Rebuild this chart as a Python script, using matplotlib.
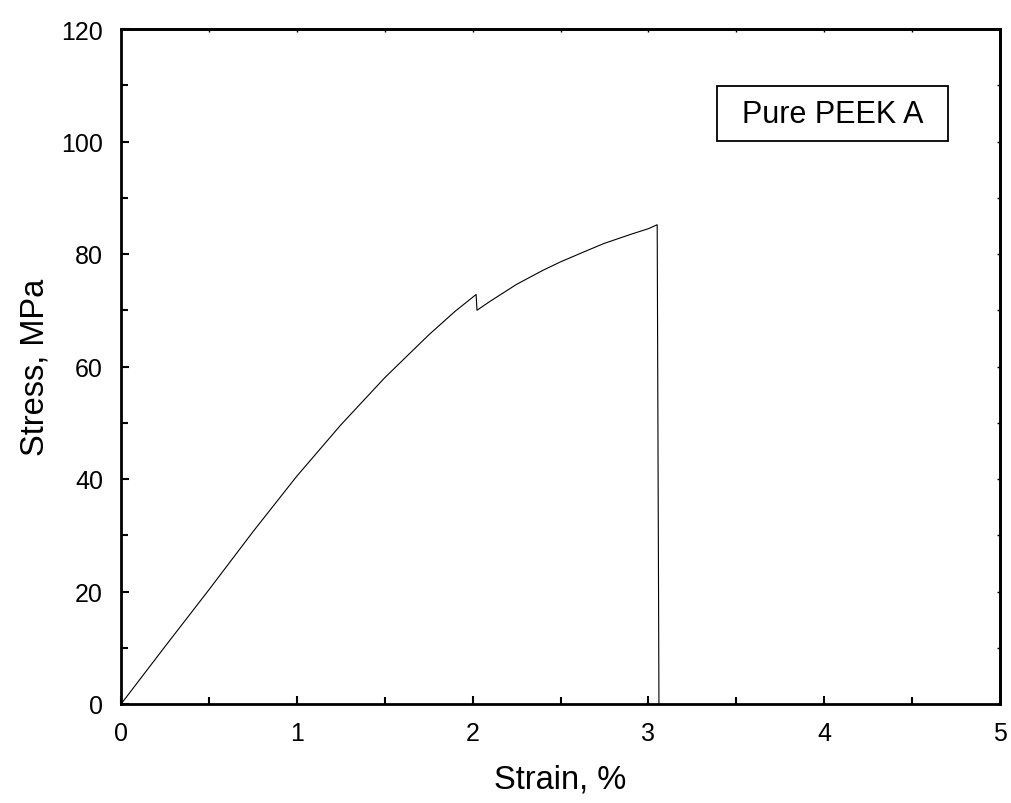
import matplotlib.pyplot as plt
from matplotlib.patches import Rectangle
from matplotlib.ticker import MultipleLocator

plt.rcParams['font.family'] = ['Liberation Sans', 'DejaVu Sans']

# stress-strain curve
strain = [0.0, 0.02, 0.25, 0.5, 0.75, 1.0, 1.25, 1.5, 1.75, 1.9, 2.0, 2.02,
          2.025, 2.1, 2.25, 2.4, 2.5, 2.65, 2.75, 2.9, 3.0, 3.05, 3.06]
stress = [0.0, 0.8, 10.2, 20.3, 30.6, 40.5, 49.6, 58.0, 65.6, 69.8, 72.3, 72.8,
          70.0, 71.6, 74.6, 77.1, 78.6, 80.6, 81.9, 83.5, 84.5, 85.2, 0.0]

label = "Pure PEEK A"

fig = plt.figure(figsize=(10.11, 8.04), dpi=100)
ax = fig.add_axes([121 / 1011, 1 - 705 / 804, 879 / 1011, 675 / 804])

ax.plot(strain, stress, color='black', linewidth=0.8)

ax.set_xlim(0, 5)
ax.set_ylim(0, 120)
ax.xaxis.set_major_locator(MultipleLocator(1))
ax.xaxis.set_minor_locator(MultipleLocator(0.5))
ax.yaxis.set_major_locator(MultipleLocator(20))
ax.yaxis.set_minor_locator(MultipleLocator(10))

ax.tick_params(which='both', direction='in', labelsize=18, width=1.5,
               top=False, right=False)
ax.tick_params(axis='y', pad=13)
ax.tick_params(axis='x', pad=12)
ax.tick_params(which='major', length=6)
ax.tick_params(which='minor', length=5)

# small ticks on top and right frame
sec_x = ax.secondary_xaxis('top')
sec_x.xaxis.set_major_locator(MultipleLocator(0.5))
sec_x.tick_params(direction='in', length=2, width=1, labeltop=False)
sec_x.spines['top'].set_linewidth(2)
sec_y = ax.secondary_yaxis('right')
sec_y.yaxis.set_major_locator(MultipleLocator(10))
sec_y.tick_params(direction='in', length=2, width=1, labelright=False)
sec_y.spines['right'].set_linewidth(2)

for s in ax.spines.values():
    s.set_linewidth(2)

ax.set_xlabel("Strain, %", fontsize=23.5)
ax.xaxis.set_label_coords(0.5, (705 - 780) / 675, transform=ax.transAxes)
ax.set_ylabel("Stress, MPa", fontsize=23.5)
ax.yaxis.set_label_coords((35 - 121) / 879, 0.5, transform=ax.transAxes)
ax.xaxis.label.set_va('center')
ax.yaxis.label.set_va('center')

# label box
ax.add_patch(Rectangle((0.678, 0.834), 0.263, 0.0815, transform=ax.transAxes,
                       facecolor='white', edgecolor='black', linewidth=1.3,
                       zorder=3))
ax.text(0.678 + 0.263 / 2, 0.834 + 0.0815 / 2, label, transform=ax.transAxes,
        fontsize=22, ha='center', va='center', zorder=4)

fig.savefig("out.png", dpi=100)
